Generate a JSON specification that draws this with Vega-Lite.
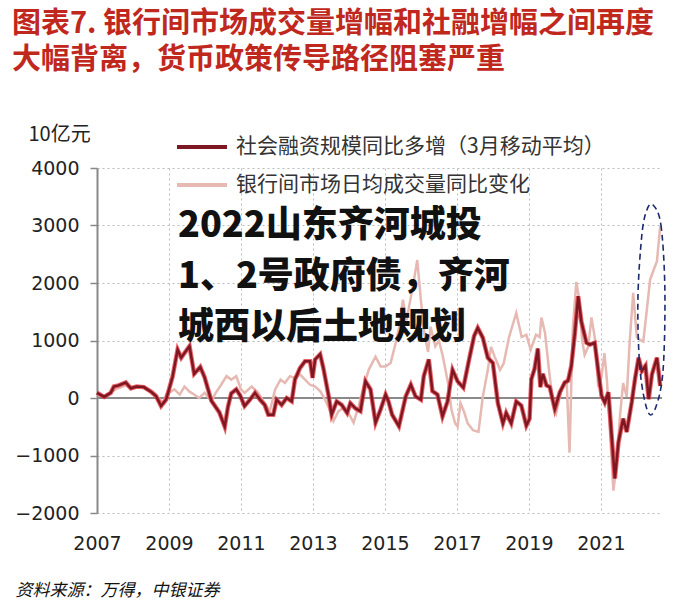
{
  "$schema": "https://vega.github.io/schema/vega-lite/v6.json",
  "autosize": "none",
  "width": 565,
  "height": 345,
  "padding": {"left": 97, "top": 168, "right": 28, "bottom": 100},
  "background": "white",
  "title": {
    "text": ["图表7. 银行间市场成交量增幅和社融增幅之间再度", "大幅背离，货币政策传导路径阻塞严重"],
    "anchor": "start",
    "frame": "group",
    "dx": -85,
    "dy": -39,
    "fontSize": 29,
    "lineHeight": 36,
    "font": "Noto Sans CJK SC",
    "fontWeight": "bold",
    "color": "#c0281e",
    "offset": 10
  },
  "datasets": {
    "s": [
      {"t": 2007.0, "v": 90}, {"t": 2007.2, "v": 20}, {"t": 2007.38, "v": 90}, {"t": 2007.47, "v": 200},
      {"t": 2007.6, "v": 220}, {"t": 2007.8, "v": 270}, {"t": 2007.94, "v": 170}, {"t": 2008.1, "v": 200},
      {"t": 2008.3, "v": 190}, {"t": 2008.5, "v": 110}, {"t": 2008.64, "v": 35}, {"t": 2008.78, "v": -140},
      {"t": 2008.92, "v": -30}, {"t": 2009.1, "v": 370}, {"t": 2009.24, "v": 840}, {"t": 2009.34, "v": 700},
      {"t": 2009.43, "v": 780}, {"t": 2009.57, "v": 900}, {"t": 2009.7, "v": 420}, {"t": 2009.87, "v": 540},
      {"t": 2009.99, "v": 360}, {"t": 2010.18, "v": -50}, {"t": 2010.4, "v": -250}, {"t": 2010.55, "v": -500},
      {"t": 2010.64, "v": -150}, {"t": 2010.73, "v": 80}, {"t": 2010.87, "v": 150}, {"t": 2010.98, "v": 40},
      {"t": 2011.1, "v": -140}, {"t": 2011.25, "v": -30}, {"t": 2011.39, "v": 90}, {"t": 2011.53, "v": -30},
      {"t": 2011.66, "v": -120}, {"t": 2011.76, "v": -290}, {"t": 2011.9, "v": -290}, {"t": 2011.99, "v": -30},
      {"t": 2012.13, "v": -120}, {"t": 2012.27, "v": 0}, {"t": 2012.41, "v": -60}, {"t": 2012.5, "v": 320},
      {"t": 2012.64, "v": 520}, {"t": 2012.78, "v": 640}, {"t": 2012.92, "v": 640}, {"t": 2012.99, "v": 350},
      {"t": 2013.06, "v": 670}, {"t": 2013.2, "v": 760}, {"t": 2013.29, "v": 520}, {"t": 2013.43, "v": 60},
      {"t": 2013.52, "v": -290}, {"t": 2013.66, "v": -60}, {"t": 2013.8, "v": -120}, {"t": 2013.95, "v": -260},
      {"t": 2014.04, "v": -90}, {"t": 2014.18, "v": -180}, {"t": 2014.32, "v": -230}, {"t": 2014.46, "v": 290},
      {"t": 2014.6, "v": 150}, {"t": 2014.74, "v": -430}, {"t": 2014.88, "v": -200}, {"t": 2015.02, "v": 60},
      {"t": 2015.1, "v": -60}, {"t": 2015.2, "v": -290}, {"t": 2015.39, "v": -490}, {"t": 2015.58, "v": 30},
      {"t": 2015.72, "v": 230}, {"t": 2015.85, "v": 30}, {"t": 2016.0, "v": -30}, {"t": 2016.08, "v": 380},
      {"t": 2016.22, "v": 670}, {"t": 2016.32, "v": 120}, {"t": 2016.46, "v": 60}, {"t": 2016.6, "v": -320},
      {"t": 2016.74, "v": -60}, {"t": 2016.88, "v": 490}, {"t": 2017.02, "v": 290}, {"t": 2017.18, "v": 180},
      {"t": 2017.34, "v": 670}, {"t": 2017.48, "v": 1080}, {"t": 2017.58, "v": 1220}, {"t": 2017.72, "v": 1050},
      {"t": 2017.86, "v": 700}, {"t": 2018.0, "v": 610}, {"t": 2018.14, "v": -90}, {"t": 2018.28, "v": -440},
      {"t": 2018.37, "v": -260}, {"t": 2018.51, "v": -440}, {"t": 2018.65, "v": -60}, {"t": 2018.79, "v": -130},
      {"t": 2018.93, "v": -480}, {"t": 2019.02, "v": -360}, {"t": 2019.07, "v": 330}, {"t": 2019.16, "v": 510},
      {"t": 2019.25, "v": 860}, {"t": 2019.32, "v": 190}, {"t": 2019.39, "v": 420}, {"t": 2019.49, "v": 220},
      {"t": 2019.58, "v": 190}, {"t": 2019.72, "v": -190}, {"t": 2019.86, "v": 100}, {"t": 2020.0, "v": 270},
      {"t": 2020.09, "v": 300}, {"t": 2020.18, "v": 560}, {"t": 2020.28, "v": 1130}, {"t": 2020.37, "v": 1770},
      {"t": 2020.46, "v": 1330}, {"t": 2020.6, "v": 960}, {"t": 2020.7, "v": 930}, {"t": 2020.83, "v": 960},
      {"t": 2020.93, "v": 470}, {"t": 2021.02, "v": 40}, {"t": 2021.11, "v": -80}, {"t": 2021.21, "v": 100},
      {"t": 2021.3, "v": -650}, {"t": 2021.39, "v": -1400}, {"t": 2021.49, "v": -770}, {"t": 2021.62, "v": -360},
      {"t": 2021.72, "v": -590}, {"t": 2021.86, "v": -70}, {"t": 2021.95, "v": 330}, {"t": 2022.05, "v": 700},
      {"t": 2022.14, "v": 470}, {"t": 2022.24, "v": 560}, {"t": 2022.33, "v": -20}, {"t": 2022.42, "v": 410},
      {"t": 2022.56, "v": 700}, {"t": 2022.65, "v": 210}
    ],
    "b": [
      {"t": 2007.0, "v": 60}, {"t": 2007.2, "v": 30}, {"t": 2007.4, "v": 100}, {"t": 2007.55, "v": 160},
      {"t": 2007.8, "v": 220}, {"t": 2007.95, "v": 150}, {"t": 2008.1, "v": 180}, {"t": 2008.3, "v": 200},
      {"t": 2008.5, "v": 100}, {"t": 2008.7, "v": 0}, {"t": 2008.85, "v": -80}, {"t": 2008.92, "v": 60},
      {"t": 2009.15, "v": 150}, {"t": 2009.3, "v": 60}, {"t": 2009.43, "v": 200}, {"t": 2009.57, "v": 110},
      {"t": 2009.7, "v": 60}, {"t": 2009.84, "v": 0}, {"t": 2009.99, "v": 90}, {"t": 2010.18, "v": -50},
      {"t": 2010.3, "v": 90}, {"t": 2010.45, "v": 230}, {"t": 2010.6, "v": 380}, {"t": 2010.73, "v": 320},
      {"t": 2010.87, "v": 380}, {"t": 2011.0, "v": 150}, {"t": 2011.1, "v": 90}, {"t": 2011.3, "v": 200},
      {"t": 2011.48, "v": 90}, {"t": 2011.66, "v": -90}, {"t": 2011.8, "v": -230}, {"t": 2011.95, "v": 150},
      {"t": 2012.1, "v": 320}, {"t": 2012.22, "v": 260}, {"t": 2012.36, "v": 380}, {"t": 2012.5, "v": 350},
      {"t": 2012.64, "v": 410}, {"t": 2012.78, "v": 320}, {"t": 2012.92, "v": 230}, {"t": 2013.06, "v": 200},
      {"t": 2013.2, "v": 120}, {"t": 2013.34, "v": -30}, {"t": 2013.48, "v": -230}, {"t": 2013.57, "v": -400},
      {"t": 2013.71, "v": -230}, {"t": 2013.85, "v": -170}, {"t": 2013.99, "v": -260}, {"t": 2014.13, "v": -430},
      {"t": 2014.27, "v": -140}, {"t": 2014.41, "v": 200}, {"t": 2014.55, "v": 490}, {"t": 2014.74, "v": 720},
      {"t": 2014.88, "v": 550}, {"t": 2015.02, "v": 550}, {"t": 2015.16, "v": 610}, {"t": 2015.3, "v": 960},
      {"t": 2015.42, "v": 1300}, {"t": 2015.5, "v": 1710}, {"t": 2015.6, "v": 1350}, {"t": 2015.72, "v": 1750},
      {"t": 2015.82, "v": 2100}, {"t": 2015.9, "v": 2400}, {"t": 2016.0, "v": 1700}, {"t": 2016.1, "v": 1100},
      {"t": 2016.2, "v": 800}, {"t": 2016.27, "v": 1240}, {"t": 2016.4, "v": 900}, {"t": 2016.5, "v": 1000},
      {"t": 2016.6, "v": 750}, {"t": 2016.74, "v": 310}, {"t": 2016.85, "v": -200}, {"t": 2016.95, "v": -440},
      {"t": 2017.02, "v": -500}, {"t": 2017.1, "v": -90}, {"t": 2017.2, "v": -240}, {"t": 2017.3, "v": -440},
      {"t": 2017.45, "v": -560}, {"t": 2017.6, "v": -590}, {"t": 2017.72, "v": 20}, {"t": 2017.86, "v": 490},
      {"t": 2017.95, "v": 890}, {"t": 2018.05, "v": 720}, {"t": 2018.2, "v": 490}, {"t": 2018.3, "v": 600},
      {"t": 2018.45, "v": 1060}, {"t": 2018.65, "v": 1480}, {"t": 2018.8, "v": 1060}, {"t": 2018.93, "v": 1100},
      {"t": 2019.05, "v": 840}, {"t": 2019.2, "v": 1100}, {"t": 2019.3, "v": 1060}, {"t": 2019.35, "v": 1400},
      {"t": 2019.45, "v": 1130}, {"t": 2019.58, "v": 370}, {"t": 2019.68, "v": -90}, {"t": 2019.76, "v": -260},
      {"t": 2019.86, "v": 20}, {"t": 2019.96, "v": 260}, {"t": 2020.05, "v": 310}, {"t": 2020.13, "v": -950},
      {"t": 2020.22, "v": 1190}, {"t": 2020.32, "v": 2020}, {"t": 2020.4, "v": 1710}, {"t": 2020.48, "v": 1010},
      {"t": 2020.55, "v": 750}, {"t": 2020.65, "v": 890}, {"t": 2020.74, "v": 1400}, {"t": 2020.83, "v": 1060},
      {"t": 2020.93, "v": 190}, {"t": 2021.02, "v": 370}, {"t": 2021.1, "v": 780}, {"t": 2021.17, "v": 310},
      {"t": 2021.35, "v": -1610}, {"t": 2021.44, "v": -1140}, {"t": 2021.53, "v": -330}, {"t": 2021.62, "v": 260},
      {"t": 2021.72, "v": 20}, {"t": 2021.8, "v": 960}, {"t": 2021.9, "v": 1830}, {"t": 2022.0, "v": 1060},
      {"t": 2022.09, "v": 1010}, {"t": 2022.18, "v": 980}, {"t": 2022.28, "v": 1540}, {"t": 2022.37, "v": 2060},
      {"t": 2022.47, "v": 2230}, {"t": 2022.56, "v": 2380}, {"t": 2022.65, "v": 2990}
    ],
    "e": [
      {"t": 2022.45, "v": 3357}, {"t": 2022.67, "v": 3009}, {"t": 2022.78, "v": 1878}, {"t": 2022.73, "v": 487},
      {"t": 2022.53, "v": -157}, {"t": 2022.31, "v": -243}, {"t": 2022.09, "v": 487}, {"t": 2022.03, "v": 1704},
      {"t": 2022.14, "v": 2835}, {"t": 2022.28, "v": 3270}
    ],
    "note": [
      {"t": 2009.25, "v": 2990, "label": "2022山东齐河城投\n1、2号政府债，齐河\n城西以后土地规划"}
    ]
  },
  "layer": [
    {
      "data": {"values": [{"v": 0}]},
      "mark": {"type": "rule", "color": "#8a8a8a", "strokeWidth": 2},
      "encoding": {"y": {"field": "v", "type": "quantitative"}}
    },
    {
      "data": {"name": "b"},
      "mark": {"type": "line", "strokeWidth": 2.5},
      "encoding": {
        "x": {
          "field": "t", "type": "quantitative",
          "scale": {"domain": [2007, 2022.7], "nice": false, "zero": false},
          "axis": {
            "values": [2007, 2009, 2011, 2013, 2015, 2017, 2019, 2021],
            "format": "d", "labelFont": "DejaVu Sans", "labelFontSize": 19, "labelColor": "#222",
            "labelFlush": false, "domain": false, "ticks": false, "labelPadding": 21,
            "grid": true, "gridDash": [2, 3], "gridColor": "#bbbbbb", "gridWidth": 1,
            "title": "资料来源：万得，中银证券", "titleFont": "Noto Sans CJK SC", "titleFontStyle": "italic",
            "titleFontSize": 17, "titleFontWeight": "normal", "titleColor": "#111",
            "titleAlign": "left", "titleAnchor": "start", "titleBaseline": "middle", "titleX": -82, "titleY": 77
          }
        },
        "y": {
          "field": "v", "type": "quantitative",
          "scale": {"domain": [-2000, 4000], "nice": false},
          "axis": {
            "values": [-2000, -1000, 0, 1000, 2000, 3000, 4000], "format": "d",
            "labelFont": "DejaVu Sans", "labelFontSize": 19, "labelColor": "#222",
            "domainColor": "#888", "domainWidth": 2, "tickColor": "#888", "tickSize": 7, "tickWidth": 1.5,
            "labelPadding": 11, "grid": true, "gridDash": [2, 3], "gridColor": "#bbbbbb", "gridWidth": 1,
            "title": "10亿元", "titleAngle": 0, "titleAlign": "left", "titleBaseline": "middle",
            "titleX": -69, "titleY": -34, "titleFont": "Noto Sans CJK SC", "titleFontSize": 20,
            "titleFontWeight": "normal", "titleColor": "#222"
          }
        },
        "color": {
          "datum": "银行间市场日均成交量同比变化",
          "scale": {
            "domain": ["社会融资规模同比多增（3月移动平均）", "银行间市场日均成交量同比变化"],
            "range": ["#7d1822", "#e6b9b3"]
          },
          "legend": {
            "orient": "none", "legendX": 90.5, "legendY": -35.5, "direction": "vertical",
            "symbolType": "M-2,0L2,0", "symbolSize": 625, "symbolStrokeWidth": 4,
            "labelFont": "Noto Sans CJK SC", "labelFontSize": 21, "labelColor": "#333",
            "labelOffset": 19.5, "rowPadding": 13, "title": null, "padding": 0, "labelLimit": 600
          }
        }
      }
    },
    {
      "data": {"name": "s"},
      "mark": {"type": "line", "strokeWidth": 4.5, "color": "#e0303a", "opacity": 0.75},
      "encoding": {
        "x": {"field": "t", "type": "quantitative"},
        "y": {"field": "v", "type": "quantitative"}
      }
    },
    {
      "data": {"name": "s"},
      "mark": {"type": "line", "strokeWidth": 2.5},
      "encoding": {
        "x": {"field": "t", "type": "quantitative"},
        "y": {"field": "v", "type": "quantitative"},
        "color": {"datum": "社会融资规模同比多增（3月移动平均）"}
      }
    },
    {
      "data": {"name": "e"},
      "mark": {"type": "line", "interpolate": "cardinal-closed", "color": "#1c2a6e", "strokeWidth": 1.6, "strokeDash": [6, 4]},
      "encoding": {
        "x": {"field": "t", "type": "quantitative"},
        "y": {"field": "v", "type": "quantitative"},
        "order": {"value": null}
      }
    },
    {
      "data": {"name": "note"},
      "mark": {
        "type": "text", "lineBreak": "\n",
        "align": "left", "baseline": "middle", "font": "Noto Sans CJK SC", "fontSize": 36,
        "fontWeight": 900, "color": "#111", "lineHeight": 51
      },
      "encoding": {
        "x": {"field": "t", "type": "quantitative"},
        "y": {"field": "v", "type": "quantitative"},
        "text": {"field": "label"}
      }
    }
  ],
  "config": {"view": {"stroke": null}}
}
